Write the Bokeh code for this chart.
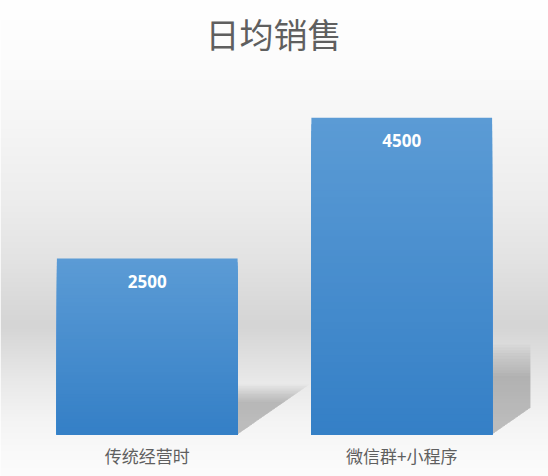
import numpy as np
from bokeh.plotting import figure
from bokeh.models import FactorRange, Range1d, Label
from bokeh.core.properties import value
from bokeh.embed import file_html
from bokeh.resources import INLINE

# data
categories = ["传统经营时", "微信群+小程序"]
sales = [2500, 4500]
sale_labels = ["2500", "4500"]
title_text = "日均销售"

# layout (px)
W, H = 548, 476
BASE_PX = 434          # baseline, from top of figure
PX_PER_UNIT = 0.0704   # px per sale unit
PX_PER_X = 254.5       # px per category step
X_PAD = (W / PX_PER_X - len(categories)) / 2
BAR_W = 0.71

# shadow look (perspective shadow, as in office charts)
SHADOW_H = 0.237
SHADOW_SLANT = 1.44
SHADOW_CLIP = 2.006

y_start = -(H - BASE_PX) / PX_PER_UNIT
y_end = BASE_PX / PX_PER_UNIT

p = figure(x_range=FactorRange(*categories, range_padding=X_PAD, range_padding_units="absolute"),
           y_range=Range1d(y_start, y_end), width=W, height=H,
           x_axis_location=None, y_axis_location=None,
           output_backend="svg", toolbar_location=None, min_border=0)
p.min_border_left = p.min_border_right = p.min_border_top = p.min_border_bottom = 0
p.outline_line_color = None
p.xgrid.grid_line_color = None
p.ygrid.grid_line_color = None
p.border_fill_color = "white"

# background: vertical grey gradient, drawn as an image stretched over the canvas
stop_y = [0, 60, 120, 200, 260, 300, 325, 345, 380, 420, 450, 476]
stop_g = [255, 252, 246, 237, 227, 218, 213, 220, 233, 244, 249, 252]
rows = np.arange(H) + 0.5
g = np.interp(rows, stop_y, stop_g).astype(np.uint32)
col = (np.uint32(255) << 24) | (g << 16) | (g << 8) | g
img = np.repeat(col[::-1].reshape(H, 1), 2, axis=1).astype(np.uint32)
p.image_rgba(image=[img], x=-X_PAD, y=y_start, dw=len(categories) + 2 * X_PAD,
             dh=y_end - y_start)


def clip_right(xs, ys, xmax):
    out_x, out_y = [], []
    n = len(xs)
    for i in range(n):
        x1, y1 = xs[i], ys[i]
        x2, y2 = xs[(i + 1) % n], ys[(i + 1) % n]
        in1, in2 = x1 <= xmax, x2 <= xmax
        if in1:
            out_x.append(x1); out_y.append(y1)
        if in1 != in2:
            t = (xmax - x1) / (x2 - x1)
            out_x.append(xmax); out_y.append(y1 + t * (y2 - y1))
    return out_x, out_y


# soft shadows: several stacked translucent parallelograms
sh_xs, sh_ys = [], []
for i, v in enumerate(sales):
    c = i + 0.5
    for s in np.linspace(0.78, 1.2, 12):
        hs = SHADOW_H * v * s
        shift = SHADOW_SLANT * hs * PX_PER_UNIT / PX_PER_X
        xs = [c - BAR_W / 2, c + BAR_W / 2, c + BAR_W / 2 + shift, c - BAR_W / 2 + shift]
        ys = [0, 0, hs, hs]
        xs, ys = clip_right(xs, ys, SHADOW_CLIP)
        sh_xs.append(xs); sh_ys.append(ys)
p.patches(sh_xs, sh_ys, fill_color="black", fill_alpha=0.018, line_color=None)

# bars with a top-to-bottom gradient: nested bars, darker ones drawn over the lower part
top_rgb = np.array([91, 155, 213])
bot_rgb = np.array([52, 127, 198])
n = 48
bx, btop, bcol = [], [], []
for k in range(n, 0, -1):
    f = k / n
    rgb = bot_rgb + (top_rgb - bot_rgb) * f
    hexc = "#%02x%02x%02x" % tuple(int(round(u)) for u in rgb)
    for cat, v in zip(categories, sales):
        bx.append(cat); btop.append(v * f); bcol.append(hexc)
p.vbar(x=bx, top=btop, width=BAR_W, fill_color=bcol, line_color=None)

# value labels
p.text(x=categories, y=sales, text=sale_labels, text_align="center", text_baseline="middle",
       y_offset=23, text_color="white", text_font=value("Open Sans"), text_font_style="bold",
       text_font_size="17px")

# category labels
p.text(x=categories, y=[0] * len(categories), text=categories, text_align="center",
       text_baseline="middle", y_offset=21, text_color="#5f5f5f",
       text_font=value("Noto Sans CJK SC"), text_font_size="17px")

p.add_layout(Label(x=273, y=H - 33, x_units="screen", y_units="screen", text=title_text,
                   text_align="center", text_baseline="middle", text_color="#5f5f5f",
                   text_font="Noto Sans CJK SC", text_font_size="34px"))

open("out.html", "w").write(file_html(p, INLINE))
